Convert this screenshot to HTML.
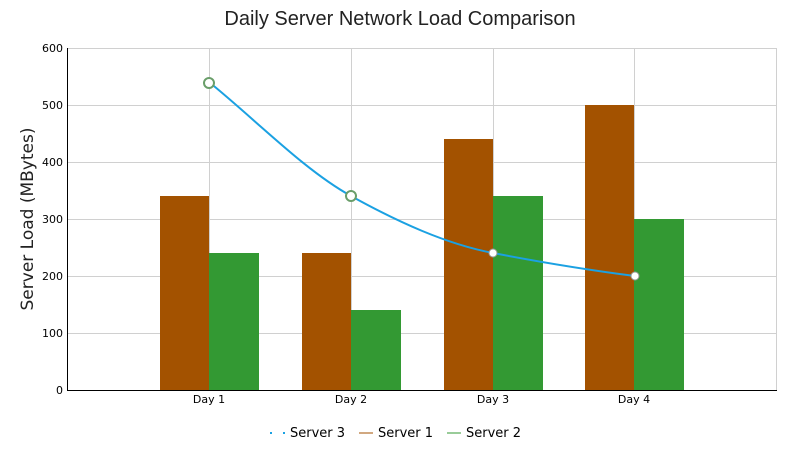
<!DOCTYPE html>
<html><head><meta charset="utf-8"><style>body{margin:0;background:#fff}svg{display:block}</style></head>
<body>
<svg width="800" height="450" xmlns="http://www.w3.org/2000/svg" font-family="Verdana, 'DejaVu Sans', sans-serif">
<rect width="800" height="450" fill="#fff"/>
<text x="400" y="25" text-anchor="middle" font-size="20" fill="#222" font-family="'Liberation Sans', sans-serif">Daily Server Network Load Comparison</text>
<g stroke="#d0d0d0" stroke-width="1">
<line x1="67" y1="48.5" x2="776" y2="48.5"/>
<line x1="67" y1="105.5" x2="776" y2="105.5"/>
<line x1="67" y1="162.5" x2="776" y2="162.5"/>
<line x1="67" y1="219.5" x2="776" y2="219.5"/>
<line x1="67" y1="276.5" x2="776" y2="276.5"/>
<line x1="67" y1="333.5" x2="776" y2="333.5"/>
<line x1="209.5" y1="48" x2="209.5" y2="390"/>
<line x1="351.5" y1="48" x2="351.5" y2="390"/>
<line x1="493.5" y1="48" x2="493.5" y2="390"/>
<line x1="634.5" y1="48" x2="634.5" y2="390"/>
<line x1="776.5" y1="48" x2="776.5" y2="390"/>
</g>
<g fill="#a35200">
<rect x="160" y="196" width="49" height="194"/>
<rect x="302" y="253" width="49" height="137"/>
<rect x="444" y="139" width="49" height="251"/>
<rect x="585" y="105" width="49" height="285"/>
</g>
<g fill="#339933">
<rect x="209" y="253" width="50" height="137"/>
<rect x="351" y="310" width="50" height="80"/>
<rect x="493" y="196" width="50" height="194"/>
<rect x="634" y="219" width="50" height="171"/>
</g>
<line x1="67.5" y1="48" x2="67.5" y2="390" stroke="#000"/>
<line x1="67" y1="390.5" x2="777" y2="390.5" stroke="#000"/>
<g font-size="11" fill="#000" text-anchor="end">
<text x="63" y="52">600</text><text x="63" y="109">500</text><text x="63" y="166">400</text>
<text x="63" y="223">300</text><text x="63" y="280">200</text><text x="63" y="337">100</text><text x="63" y="394">0</text>
</g>
<g font-size="11" fill="#000" text-anchor="middle">
<text x="209" y="403">Day 1</text><text x="351" y="403">Day 2</text><text x="493" y="403">Day 3</text><text x="634" y="403">Day 4</text>
</g>
<text transform="translate(33,219) rotate(-90)" text-anchor="middle" font-size="17" fill="#222">Server Load (MBytes)</text>
<path d="M209,82 C256,120 304,170 351,196 C398,222 446,244 493,253 C540,262 588,270 635,276" fill="none" stroke="#1ba1e2" stroke-width="2"/>
<circle cx="209" cy="83" r="5" fill="#fff" stroke="#6a9e6a" stroke-width="2"/>
<circle cx="351" cy="196" r="5" fill="#fff" stroke="#6a9e6a" stroke-width="2"/>
<circle cx="493" cy="253" r="4" fill="#fff" stroke="#999" stroke-width="1"/>
<circle cx="635" cy="276" r="4" fill="#fff" stroke="#999" stroke-width="1"/>
<g font-size="13" fill="#000">
<rect x="270" y="432" width="2" height="2" fill="#1ba1e2"/><rect x="283" y="432" width="2" height="2" fill="#1ba1e2"/>
<text x="290" y="437">Server 3</text>
<line x1="359" y1="433" x2="373" y2="433" stroke="#a35200"/>
<text x="378" y="437">Server 1</text>
<line x1="447" y1="433" x2="461" y2="433" stroke="#339933"/>
<text x="466" y="437">Server 2</text>
</g>
</svg>
</body></html>
